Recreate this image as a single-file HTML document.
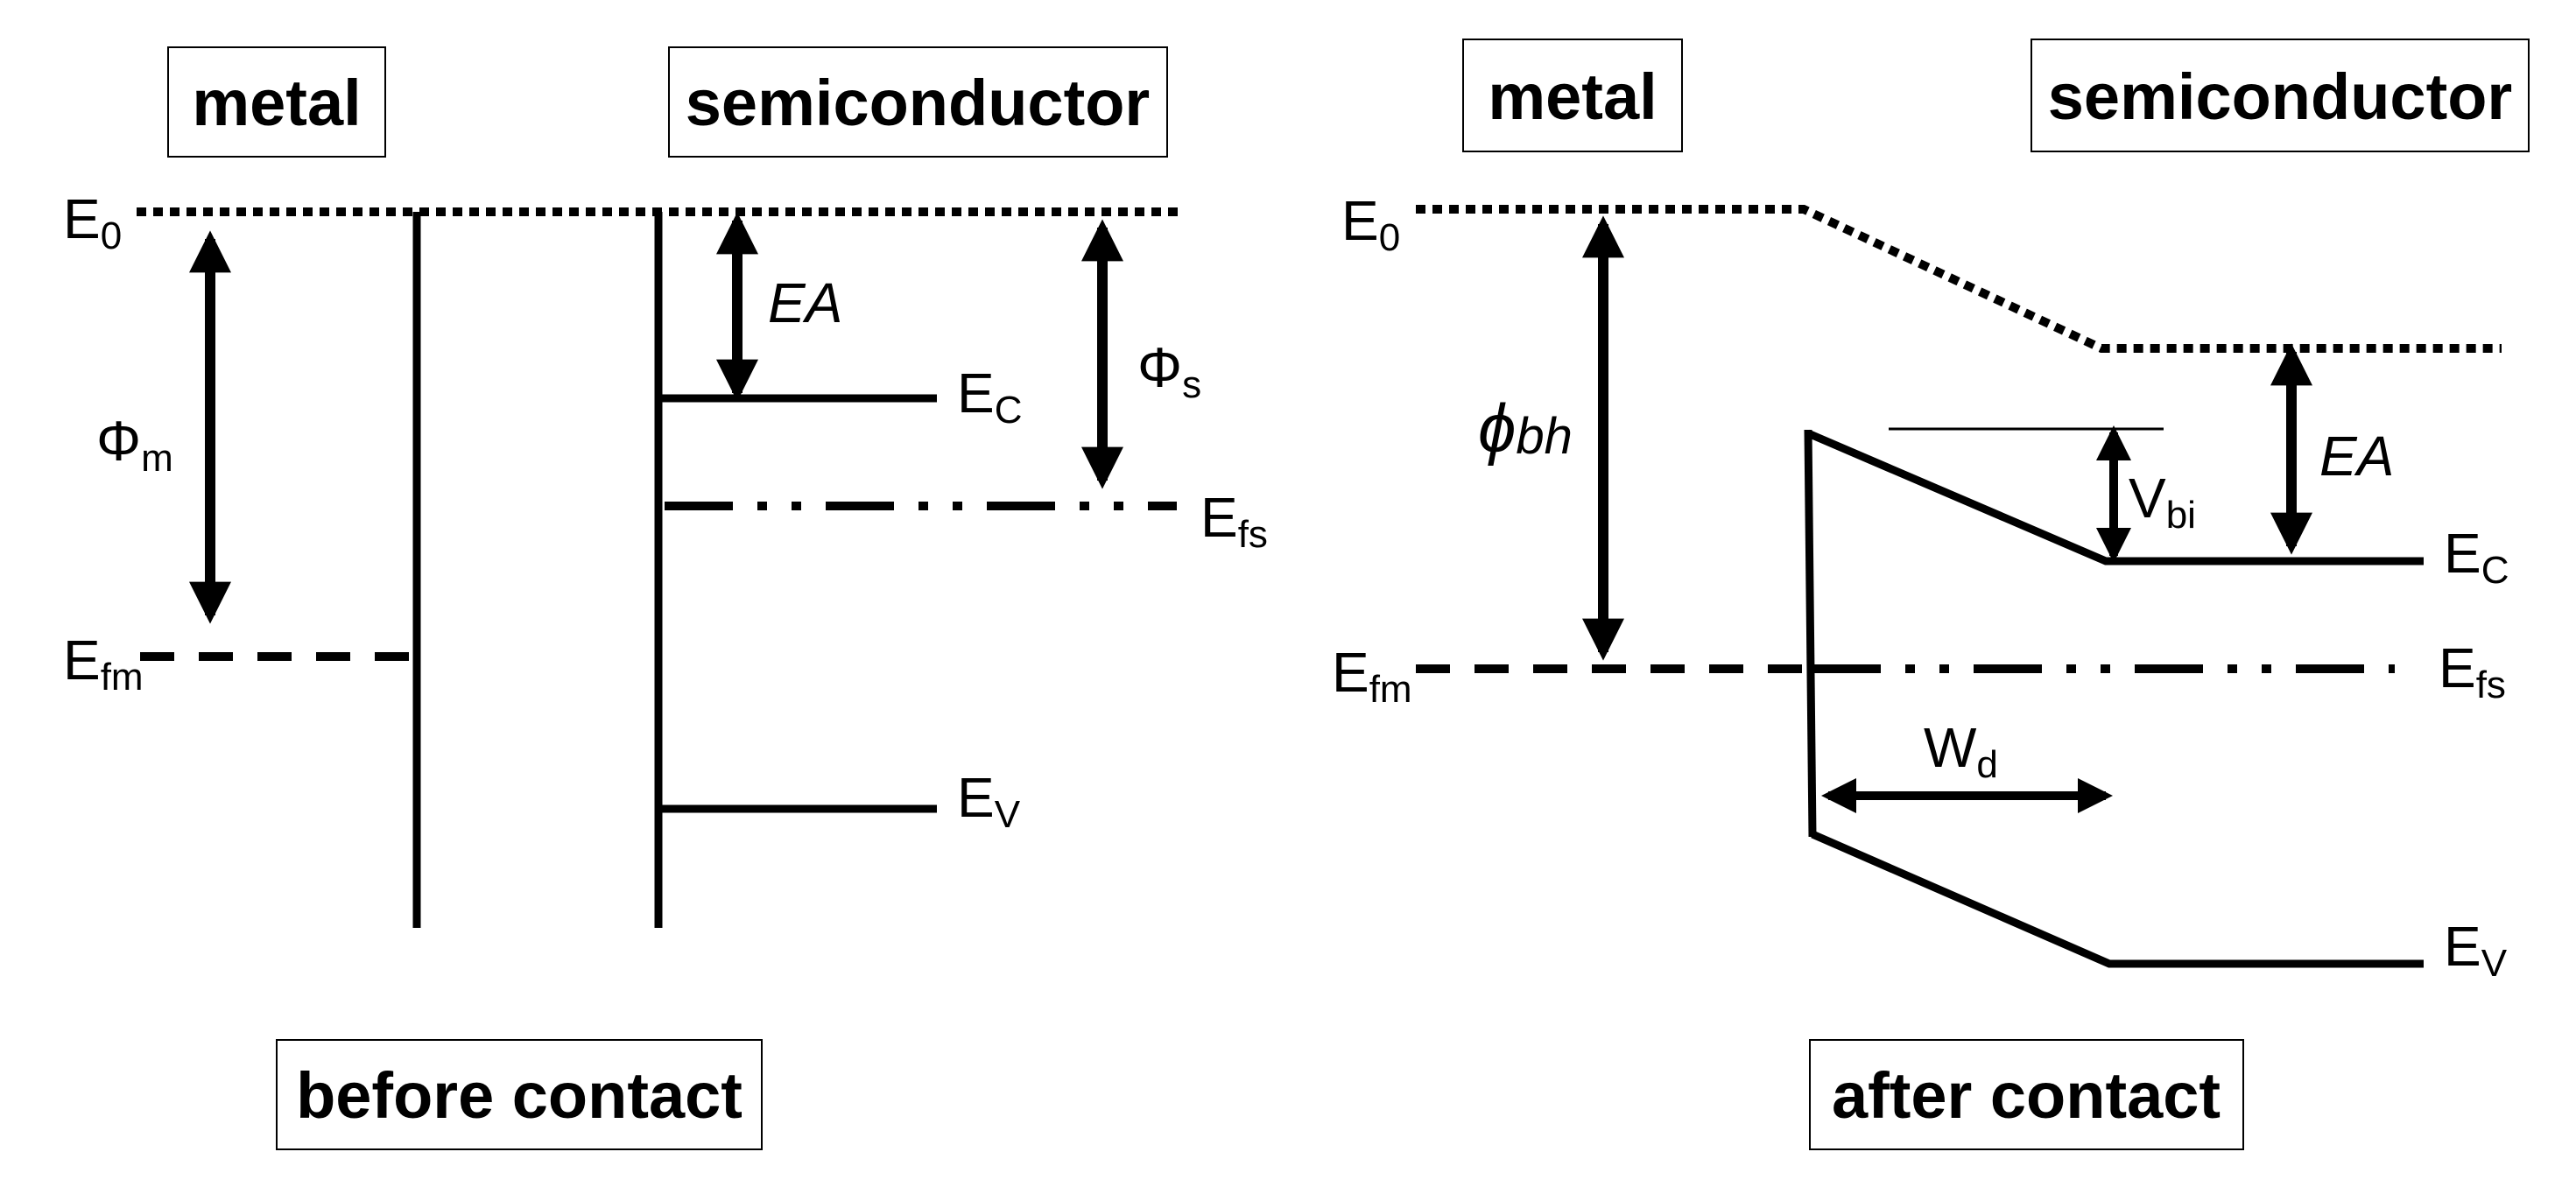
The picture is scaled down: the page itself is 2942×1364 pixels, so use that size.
<!DOCTYPE html>
<html><head><meta charset="utf-8"><style>
html,body{margin:0;padding:0;background:#fff;}
svg{display:block;}
text{font-family:"Liberation Sans",sans-serif;fill:#000;}
.b{font-weight:bold;font-size:74px;}
.l{font-size:64px;}
.s{font-size:44px;}
</style></head><body>
<svg width="2942" height="1364" viewBox="0 0 2942 1364" xmlns="http://www.w3.org/2000/svg">
<defs>
<marker id="ah" markerWidth="4" markerHeight="4" refX="3.2" refY="2" orient="auto-start-reverse" markerUnits="strokeWidth" viewBox="0 0 4 4">
<path d="M0,0 L4,2 L0,4 Z" fill="#000"/>
</marker>
</defs>
<g fill="none" stroke="#000" stroke-width="2">
<rect x="192" y="54" width="248" height="125"/>
<rect x="764" y="54" width="569" height="125"/>
<rect x="316" y="1188" width="554" height="125"/>
<rect x="1671" y="45" width="250" height="128"/>
<rect x="2320" y="45" width="568" height="128"/>
<rect x="2067" y="1188" width="495" height="125"/>
</g>
<text class="b" x="316" y="143" text-anchor="middle">metal</text>
<text class="b" x="1048" y="143" text-anchor="middle">semiconductor</text>
<text class="b" x="593" y="1277" text-anchor="middle">before contact</text>
<text class="b" x="1796" y="136" text-anchor="middle">metal</text>
<text class="b" x="2604" y="136" text-anchor="middle">semiconductor</text>
<text class="b" x="2314" y="1277" text-anchor="middle">after contact</text>

<!-- LEFT -->
<g stroke="#000" fill="none">
<line x1="156" y1="242" x2="1348" y2="242" stroke-width="10" stroke-dasharray="11 8"/>
<line x1="476" y1="242" x2="476" y2="1060" stroke-width="9"/>
<line x1="752" y1="242" x2="752" y2="1060" stroke-width="9"/>
<line x1="160" y1="750" x2="472" y2="750" stroke-width="10" stroke-dasharray="39 28"/>
<line x1="752" y1="455" x2="1070" y2="455" stroke-width="9"/>
<line x1="759" y1="578" x2="1344" y2="578" stroke-width="10" stroke-dasharray="78 28 11 28 11 28"/>
<line x1="752" y1="924" x2="1070" y2="924" stroke-width="9"/>
<line x1="240" y1="273" x2="240" y2="703" stroke-width="12" marker-start="url(#ah)" marker-end="url(#ah)"/>
<line x1="842" y1="252" x2="842" y2="449" stroke-width="12" marker-start="url(#ah)" marker-end="url(#ah)"/>
<line x1="1259" y1="260" x2="1259" y2="549" stroke-width="12" marker-start="url(#ah)" marker-end="url(#ah)"/>
</g>
<text class="l" x="72" y="272">E<tspan class="s" dy="12">0</tspan></text>
<text class="l" x="110" y="526">Φ<tspan class="s" dy="12">m</tspan></text>
<text class="l" x="72" y="776">E<tspan class="s" dy="12">fm</tspan></text>
<text class="l" x="877" y="368" font-style="italic">EA</text>
<text class="l" x="1093" y="471">E<tspan class="s" dy="12">C</tspan></text>
<text class="l" x="1299" y="442">Φ<tspan class="s" dy="12">s</tspan></text>
<text class="l" x="1371" y="613">E<tspan class="s" dy="12">fs</tspan></text>
<text class="l" x="1093" y="933">E<tspan class="s" dy="12">V</tspan></text>

<!-- RIGHT -->
<g stroke="#000" fill="none">
<polyline points="1617,239 2060,239 2400,398 2857,398" stroke-width="10" stroke-dasharray="11 8"/>
<line x1="1617" y1="764" x2="2060" y2="764" stroke-width="10" stroke-dasharray="39 28"/>
<line x1="2070" y1="764" x2="2735" y2="764" stroke-width="10" stroke-dasharray="78 28 11 28 11 28"/>
<polyline points="2065,495 2405,641 2768,641" stroke-width="9"/>
<polyline points="2065,491 2070,956" stroke-width="9"/>
<polyline points="2070,953 2409,1101 2768,1101" stroke-width="9"/>
<line x1="2157" y1="490" x2="2471" y2="490" stroke-width="3"/>
<line x1="2414" y1="494" x2="2414" y2="635" stroke-width="10" marker-start="url(#ah)" marker-end="url(#ah)"/>
<line x1="2617" y1="402" x2="2617" y2="624" stroke-width="12" marker-start="url(#ah)" marker-end="url(#ah)"/>
<line x1="1831" y1="256" x2="1831" y2="745" stroke-width="12" marker-start="url(#ah)" marker-end="url(#ah)"/>
<line x1="2088" y1="909" x2="2405" y2="909" stroke-width="10" marker-start="url(#ah)" marker-end="url(#ah)"/>
</g>
<text class="l" x="1532" y="274">E<tspan class="s" dy="12">0</tspan></text>
<text x="1688" y="516" font-family="Liberation Serif,serif" font-style="italic" font-size="78">ϕ<tspan font-size="58" dy="2">bh</tspan></text>
<text class="l" x="1521" y="790">E<tspan class="s" dy="12">fm</tspan></text>
<text class="l" x="2431" y="591">V<tspan class="s" dy="12">bi</tspan></text>
<text class="l" x="2649" y="543" font-style="italic">EA</text>
<text class="l" x="2791" y="654">E<tspan class="s" dy="12">C</tspan></text>
<text class="l" x="2785" y="785">E<tspan class="s" dy="12">fs</tspan></text>
<text class="l" x="2197" y="876">W<tspan class="s" dy="12">d</tspan></text>
<text class="l" x="2791" y="1103">E<tspan class="s" dy="12">V</tspan></text>
</svg>
</body></html>
